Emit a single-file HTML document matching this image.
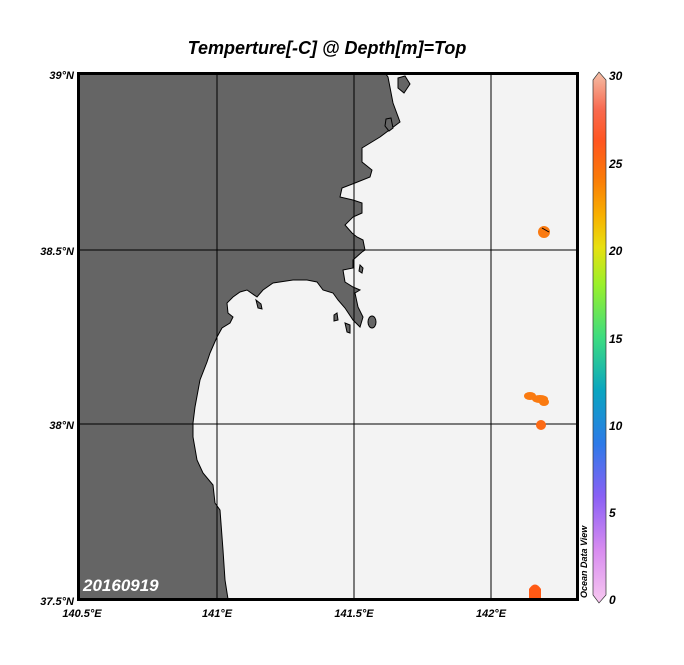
<!DOCTYPE html>
<html><head><style>
body{margin:0;background:#fff;}
svg text{font-family:"Liberation Sans",Arial,sans-serif;font-weight:bold;font-style:italic;}
</style></head><body>
<svg width="684" height="660" viewBox="0 0 684 660" xmlns="http://www.w3.org/2000/svg">
<defs>
<linearGradient id="cb" x1="0" y1="1" x2="0" y2="0">
<stop offset="0" stop-color="#f7c8f0"/>
<stop offset="0.1" stop-color="#d88cf0"/>
<stop offset="0.2" stop-color="#8a60f5"/>
<stop offset="0.3" stop-color="#2d7ae8"/>
<stop offset="0.4" stop-color="#0aa5c0"/>
<stop offset="0.5" stop-color="#3ddc80"/>
<stop offset="0.6" stop-color="#9af02a"/>
<stop offset="0.67" stop-color="#e8e010"/>
<stop offset="0.73" stop-color="#f8b000"/>
<stop offset="0.8" stop-color="#fa7a08"/>
<stop offset="0.87" stop-color="#ff5520"/>
<stop offset="0.93" stop-color="#f86a50"/>
<stop offset="1" stop-color="#f4c0a8"/>
</linearGradient>
</defs>
<text x="327" y="54" font-size="18" text-anchor="middle">Temperture[-C] @ Depth[m]=Top</text>
<rect x="79" y="73" width="498" height="527" fill="#f3f3f3"/>
<polygon fill="#656565" stroke="#000" stroke-width="1" points="79,73 385,73 388,77 393,103 400,122 380,137 362,148 362,162 372,170 370,177 355,183 342,188 340,197 353,200 362,203 362,213 353,217 345,225 352,233 357,237 363,240 365,250 362,252 353,260 353,268 343,270 345,282 353,287 360,290 355,293 358,307 363,317 360,327 353,320 345,308 338,300 333,293 323,290 317,282 307,280 293,280 273,283 263,290 257,297 247,290 240,292 233,297 227,303 228,313 233,317 230,323 222,328 217,337 210,353 207,362 200,380 195,407 193,423 193,437 197,460 203,473 213,485 215,503 220,510 223,550 225,580 228,599 79,599"/>
<polygon fill="#656565" stroke="#000" points="398,78 405,76 410,84 404,93 398,88"/>
<polygon fill="#656565" stroke="#000" points="386,119 391,118 393,128 389,131 385,126"/>
<polygon fill="#656565" stroke="#000" points="256,300 261,304 262,309 258,308"/>
<polygon fill="#656565" stroke="#000" points="334,315 337,313 338,320 334,321"/>
<polygon fill="#656565" stroke="#000" points="345,323 350,325 350,333 347,332"/>
<ellipse cx="372" cy="322" rx="4" ry="6" fill="#656565" stroke="#000"/>
<polygon fill="#656565" stroke="#000" points="360,265 363,268 362,273 359,271"/>
<line x1="217" y1="73" x2="217" y2="600" stroke="#000"/>
<line x1="354" y1="73" x2="354" y2="600" stroke="#000"/>
<line x1="491" y1="73" x2="491" y2="600" stroke="#000"/>
<line x1="79" y1="250" x2="577" y2="250" stroke="#000"/>
<line x1="79" y1="424" x2="577" y2="424" stroke="#000"/>
<ellipse cx="544" cy="232" rx="6" ry="6" fill="#fa7a10"/>
<path d="M542,228 L549,232" stroke="#000"/>
<ellipse cx="530" cy="396" rx="6" ry="4" fill="#fa7a10"/>
<ellipse cx="540" cy="399" rx="8" ry="4" fill="#fa7a10"/>
<ellipse cx="544" cy="402" rx="5" ry="4" fill="#fa7a10"/>
<circle cx="541" cy="425" r="5" fill="#fc6a15"/>
<path d="M529,600 L529,589 Q535,580 541,589 L541,600 Z" fill="#ff5a15"/>
<rect x="78.5" y="73.5" width="499" height="526" fill="none" stroke="#000" stroke-width="3"/>
<text x="83" y="591" font-size="17" fill="#fff">20160919</text>
<g font-size="11" text-anchor="end">
<text x="74" y="79">39°N</text>
<text x="74" y="255">38.5°N</text>
<text x="74" y="429">38°N</text>
<text x="74" y="605">37.5°N</text>
</g>
<g font-size="11" text-anchor="middle">
<text x="82" y="617">140.5°E</text>
<text x="217" y="617">141°E</text>
<text x="354" y="617">141.5°E</text>
<text x="491" y="617">142°E</text>
</g>
<polygon points="593,80 599,72 606,80 606,595 599,603 593,595" fill="url(#cb)" stroke="#333" stroke-width="0.7"/>
<g font-size="12">
<text x="609" y="80">30</text>
<text x="609" y="168">25</text>
<text x="609" y="255">20</text>
<text x="609" y="343">15</text>
<text x="609" y="430">10</text>
<text x="609" y="517">5</text>
<text x="609" y="604">0</text>
</g>
<text transform="translate(587,598) rotate(-90)" font-size="9">Ocean Data View</text>
</svg>
</body></html>
